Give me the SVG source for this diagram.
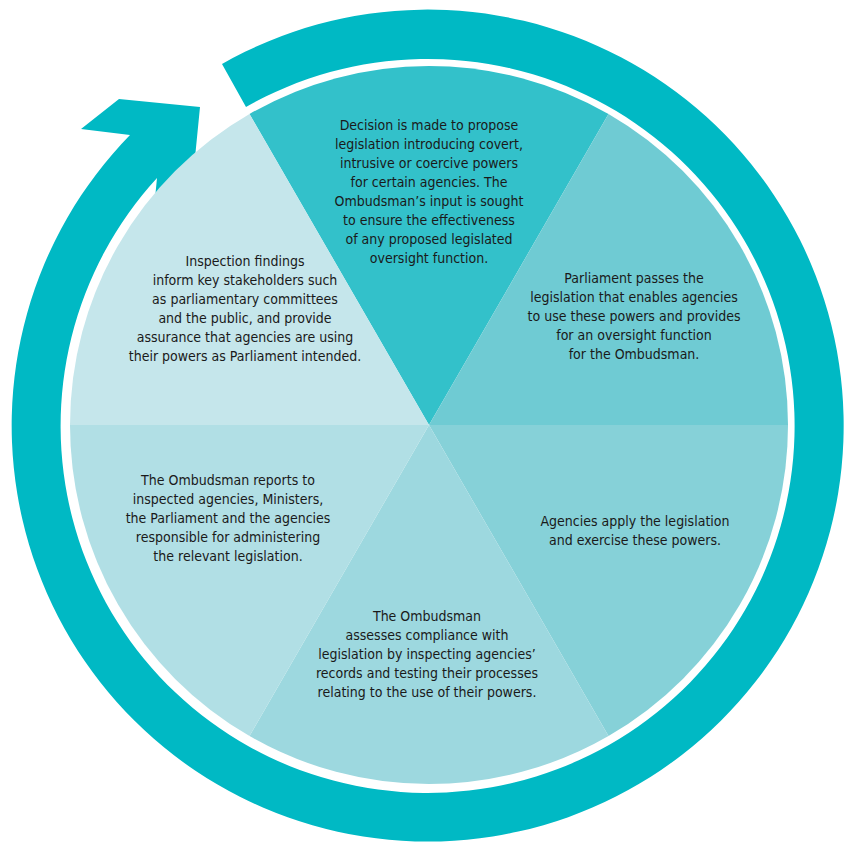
<svg xmlns="http://www.w3.org/2000/svg" width="862" height="849" viewBox="0 0 862 849">
<style>
text{font-family:"Liberation Sans Narrow","DejaVu Sans Condensed","Liberation Sans",sans-serif;font-size:14px;fill:#1a1a1a;text-anchor:middle}
</style>
<rect width="862" height="849" fill="#fff"/>
<g id="ring"><path d="M222,64 A416,416 0 1 1 130,135 L81,129 L119,99 L200,107 L192,188 L153,219 L157,178 A367,367 0 1 0 246,107 Z" fill="#00b9c4"/></g>
<g id="s1"><path d="M429,425 L249.5,114 A359,359 0 0 1 608.5,114 Z" fill="#33c1ca"/>
<text x="429" y="130"><tspan x="429">Decision is made to propose</tspan><tspan x="429" dy="19">legislation introducing covert,</tspan><tspan x="429" dy="19">intrusive or coercive powers</tspan><tspan x="429" dy="19">for certain agencies. The</tspan><tspan x="429" dy="19">Ombudsman’s input is sought</tspan><tspan x="429" dy="19">to ensure the effectiveness</tspan><tspan x="429" dy="19">of any proposed legislated</tspan><tspan x="429" dy="19">oversight function.</tspan></text></g>
<g id="s2"><path d="M429,425 L608.5,114 A359,359 0 0 1 788,425 Z" fill="#6fcbd3"/>
<text x="634" y="283"><tspan x="634">Parliament passes the</tspan><tspan x="634" dy="19">legislation that enables agencies</tspan><tspan x="634" dy="19">to use these powers and provides</tspan><tspan x="634" dy="19">for an oversight function</tspan><tspan x="634" dy="19">for the Ombudsman.</tspan></text></g>
<g id="s3"><path d="M429,425 L788,425 A359,359 0 0 1 608.5,736 Z" fill="#86d1d8"/>
<text x="635" y="526"><tspan x="635">Agencies apply the legislation</tspan><tspan x="635" dy="19">and exercise these powers.</tspan></text></g>
<g id="s4"><path d="M429,425 L608.5,736 A359,359 0 0 1 249.5,736 Z" fill="#9dd8df"/>
<text x="427" y="621"><tspan x="427">The Ombudsman</tspan><tspan x="427" dy="19">assesses compliance with</tspan><tspan x="427" dy="19">legislation by inspecting agencies’</tspan><tspan x="427" dy="19">records and testing their processes</tspan><tspan x="427" dy="19">relating to the use of their powers.</tspan></text></g>
<g id="s5"><path d="M429,425 L249.5,736 A359,359 0 0 1 70,425 Z" fill="#b1dfe5"/>
<text x="228" y="485"><tspan x="228">The Ombudsman reports to</tspan><tspan x="228" dy="19">inspected agencies, Ministers,</tspan><tspan x="228" dy="19">the Parliament and the agencies</tspan><tspan x="228" dy="19">responsible for administering</tspan><tspan x="228" dy="19">the relevant legislation.</tspan></text></g>
<g id="s6"><path d="M429,425 L70,425 A359,359 0 0 1 249.5,114 Z" fill="#c5e6eb"/>
<text x="245" y="266"><tspan x="245">Inspection findings</tspan><tspan x="245" dy="19">inform key stakeholders such</tspan><tspan x="245" dy="19">as parliamentary committees</tspan><tspan x="245" dy="19">and the public, and provide</tspan><tspan x="245" dy="19">assurance that agencies are using</tspan><tspan x="245" dy="19">their powers as Parliament intended.</tspan></text></g>
<g id="connectors"></g>
</svg>
